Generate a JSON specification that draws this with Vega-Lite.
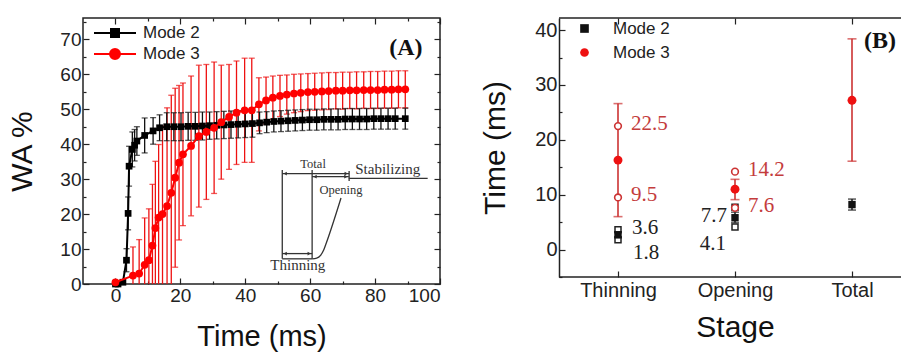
{
  "$schema": "https://vega.github.io/schema/vega-lite/v6.json",
  "background": "white",
  "padding": {"left": 7, "top": 12, "right": 0, "bottom": 0},
  "config": {
    "font": "Liberation Sans",
    "view": {"stroke": "#222", "strokeWidth": 1.5},
    "axis": {"domainColor": "#222", "domainWidth": 1.5, "tickColor": "#222", "tickWidth": 1.2, "labelColor": "#222", "titleColor": "#111", "labelFont": "Liberation Sans", "titleFont": "Liberation Sans", "titleFontWeight": "normal", "grid": false, "labelOverlap": false},
    "legend": {"title": null, "labelFont": "Liberation Sans", "labelColor": "#222", "padding": 0}
  },
  "datasets": {
    "a": [
      {"mode": "Mode 2", "t": 0.0, "wa": 0.0, "lo": 0.0, "hi": 0.0},
      {"mode": "Mode 2", "t": 0.8, "wa": 0.0, "lo": 0.0, "hi": 0.0},
      {"mode": "Mode 2", "t": 2.3, "wa": 0.5, "lo": 0.0, "hi": 1.0},
      {"mode": "Mode 2", "t": 3.4, "wa": 6.8, "lo": 3.5, "hi": 10.1},
      {"mode": "Mode 2", "t": 3.9, "wa": 20.2, "lo": 15.5, "hi": 24.9},
      {"mode": "Mode 2", "t": 4.2, "wa": 33.7, "lo": 28.0, "hi": 39.4},
      {"mode": "Mode 2", "t": 5.2, "wa": 38.5, "lo": 33.5, "hi": 43.5},
      {"mode": "Mode 2", "t": 5.9, "wa": 39.7, "lo": 35.2, "hi": 44.2},
      {"mode": "Mode 2", "t": 6.6, "wa": 40.9, "lo": 36.8, "hi": 45.0},
      {"mode": "Mode 2", "t": 9.0, "wa": 42.5, "lo": 37.5, "hi": 47.5},
      {"mode": "Mode 2", "t": 11.6, "wa": 43.8, "lo": 40.0, "hi": 47.6},
      {"mode": "Mode 2", "t": 13.6, "wa": 44.7, "lo": 41.0, "hi": 48.4},
      {"mode": "Mode 2", "t": 15.8, "wa": 45.0, "lo": 41.0, "hi": 49.0},
      {"mode": "Mode 2", "t": 18.0, "wa": 45.0, "lo": 41.0, "hi": 49.0},
      {"mode": "Mode 2", "t": 20.2, "wa": 45.0, "lo": 41.0, "hi": 49.0},
      {"mode": "Mode 2", "t": 22.4, "wa": 45.1, "lo": 41.1, "hi": 49.1},
      {"mode": "Mode 2", "t": 24.6, "wa": 45.1, "lo": 41.1, "hi": 49.1},
      {"mode": "Mode 2", "t": 26.8, "wa": 45.2, "lo": 41.2, "hi": 49.2},
      {"mode": "Mode 2", "t": 29.0, "wa": 45.3, "lo": 41.4, "hi": 49.2},
      {"mode": "Mode 2", "t": 31.2, "wa": 45.4, "lo": 41.5, "hi": 49.3},
      {"mode": "Mode 2", "t": 33.4, "wa": 45.5, "lo": 41.6, "hi": 49.4},
      {"mode": "Mode 2", "t": 35.6, "wa": 45.6, "lo": 41.7, "hi": 49.5},
      {"mode": "Mode 2", "t": 37.8, "wa": 45.7, "lo": 41.8, "hi": 49.6},
      {"mode": "Mode 2", "t": 40.0, "wa": 45.8, "lo": 41.9, "hi": 49.7},
      {"mode": "Mode 2", "t": 42.2, "wa": 45.9, "lo": 42.0, "hi": 49.8},
      {"mode": "Mode 2", "t": 44.4, "wa": 46.1, "lo": 43.0, "hi": 49.2},
      {"mode": "Mode 2", "t": 46.6, "wa": 46.3, "lo": 43.3, "hi": 49.3},
      {"mode": "Mode 2", "t": 48.8, "wa": 46.5, "lo": 43.5, "hi": 49.5},
      {"mode": "Mode 2", "t": 51.0, "wa": 46.6, "lo": 43.6, "hi": 49.6},
      {"mode": "Mode 2", "t": 53.2, "wa": 46.7, "lo": 43.7, "hi": 49.7},
      {"mode": "Mode 2", "t": 55.4, "wa": 46.8, "lo": 43.8, "hi": 49.8},
      {"mode": "Mode 2", "t": 57.6, "wa": 46.9, "lo": 43.9, "hi": 49.9},
      {"mode": "Mode 2", "t": 59.8, "wa": 47.0, "lo": 44.0, "hi": 50.0},
      {"mode": "Mode 2", "t": 62.0, "wa": 47.0, "lo": 44.0, "hi": 50.0},
      {"mode": "Mode 2", "t": 64.2, "wa": 47.1, "lo": 44.1, "hi": 50.1},
      {"mode": "Mode 2", "t": 66.4, "wa": 47.1, "lo": 44.1, "hi": 50.1},
      {"mode": "Mode 2", "t": 68.6, "wa": 47.1, "lo": 44.1, "hi": 50.1},
      {"mode": "Mode 2", "t": 70.8, "wa": 47.2, "lo": 44.2, "hi": 50.2},
      {"mode": "Mode 2", "t": 73.0, "wa": 47.2, "lo": 44.2, "hi": 50.2},
      {"mode": "Mode 2", "t": 75.2, "wa": 47.2, "lo": 44.2, "hi": 50.2},
      {"mode": "Mode 2", "t": 77.4, "wa": 47.2, "lo": 44.2, "hi": 50.2},
      {"mode": "Mode 2", "t": 79.6, "wa": 47.3, "lo": 44.3, "hi": 50.3},
      {"mode": "Mode 2", "t": 81.8, "wa": 47.3, "lo": 44.3, "hi": 50.3},
      {"mode": "Mode 2", "t": 84.0, "wa": 47.3, "lo": 44.3, "hi": 50.3},
      {"mode": "Mode 2", "t": 86.2, "wa": 47.3, "lo": 44.3, "hi": 50.3},
      {"mode": "Mode 2", "t": 89.3, "wa": 47.3, "lo": 44.3, "hi": 50.3},
      {"mode": "Mode 3", "t": 0.0, "wa": 0.5, "lo": 0.0, "hi": 1.0},
      {"mode": "Mode 3", "t": 5.4, "wa": 2.4, "lo": -5.8, "hi": 10.6},
      {"mode": "Mode 3", "t": 7.3, "wa": 3.0, "lo": -6.7, "hi": 12.7},
      {"mode": "Mode 3", "t": 9.0, "wa": 5.5, "lo": -7.9, "hi": 18.9},
      {"mode": "Mode 3", "t": 10.3, "wa": 6.8, "lo": -7.9, "hi": 21.5},
      {"mode": "Mode 3", "t": 11.4, "wa": 11.0, "lo": -6.5, "hi": 28.5},
      {"mode": "Mode 3", "t": 12.3, "wa": 16.0, "lo": -3.1, "hi": 35.1},
      {"mode": "Mode 3", "t": 13.3, "wa": 19.0, "lo": -1.9, "hi": 39.9},
      {"mode": "Mode 3", "t": 14.5, "wa": 20.0, "lo": -5.2, "hi": 45.2},
      {"mode": "Mode 3", "t": 15.9, "wa": 22.3, "lo": -5.8, "hi": 50.4},
      {"mode": "Mode 3", "t": 17.2, "wa": 26.1, "lo": -1.8, "hi": 54.0},
      {"mode": "Mode 3", "t": 18.4, "wa": 30.4, "lo": 4.8, "hi": 56.0},
      {"mode": "Mode 3", "t": 19.6, "wa": 34.7, "lo": 12.6, "hi": 56.8},
      {"mode": "Mode 3", "t": 20.8, "wa": 37.1, "lo": 16.7, "hi": 57.5},
      {"mode": "Mode 3", "t": 23.3, "wa": 39.5, "lo": 19.5, "hi": 59.5},
      {"mode": "Mode 3", "t": 25.7, "wa": 42.3, "lo": 22.0, "hi": 62.6},
      {"mode": "Mode 3", "t": 28.0, "wa": 43.5, "lo": 24.2, "hi": 62.8},
      {"mode": "Mode 3", "t": 30.4, "wa": 44.7, "lo": 25.9, "hi": 63.5},
      {"mode": "Mode 3", "t": 32.6, "wa": 46.3, "lo": 30.0, "hi": 62.6},
      {"mode": "Mode 3", "t": 35.0, "wa": 47.8, "lo": 32.8, "hi": 62.8},
      {"mode": "Mode 3", "t": 37.3, "wa": 49.0, "lo": 34.2, "hi": 63.8},
      {"mode": "Mode 3", "t": 39.8, "wa": 49.7, "lo": 34.8, "hi": 64.6},
      {"mode": "Mode 3", "t": 42.0, "wa": 49.7, "lo": 34.8, "hi": 64.6},
      {"mode": "Mode 3", "t": 44.2, "wa": 51.4, "lo": 43.8, "hi": 59.0},
      {"mode": "Mode 3", "t": 46.4, "wa": 52.5, "lo": 45.8, "hi": 59.2},
      {"mode": "Mode 3", "t": 48.5, "wa": 53.3, "lo": 47.1, "hi": 59.5},
      {"mode": "Mode 3", "t": 50.7, "wa": 53.8, "lo": 47.9, "hi": 59.7},
      {"mode": "Mode 3", "t": 52.8, "wa": 54.2, "lo": 48.6, "hi": 59.8},
      {"mode": "Mode 3", "t": 55.0, "wa": 54.5, "lo": 49.0, "hi": 60.0},
      {"mode": "Mode 3", "t": 57.1, "wa": 54.7, "lo": 49.3, "hi": 60.1},
      {"mode": "Mode 3", "t": 59.3, "wa": 54.9, "lo": 49.6, "hi": 60.2},
      {"mode": "Mode 3", "t": 61.4, "wa": 55.0, "lo": 49.7, "hi": 60.3},
      {"mode": "Mode 3", "t": 63.6, "wa": 55.1, "lo": 49.8, "hi": 60.4},
      {"mode": "Mode 3", "t": 65.7, "wa": 55.2, "lo": 49.9, "hi": 60.5},
      {"mode": "Mode 3", "t": 67.9, "wa": 55.3, "lo": 50.1, "hi": 60.5},
      {"mode": "Mode 3", "t": 70.0, "wa": 55.3, "lo": 50.0, "hi": 60.6},
      {"mode": "Mode 3", "t": 72.2, "wa": 55.4, "lo": 50.2, "hi": 60.6},
      {"mode": "Mode 3", "t": 74.3, "wa": 55.4, "lo": 50.1, "hi": 60.7},
      {"mode": "Mode 3", "t": 76.5, "wa": 55.5, "lo": 50.3, "hi": 60.7},
      {"mode": "Mode 3", "t": 78.6, "wa": 55.5, "lo": 50.2, "hi": 60.8},
      {"mode": "Mode 3", "t": 80.8, "wa": 55.5, "lo": 50.2, "hi": 60.8},
      {"mode": "Mode 3", "t": 82.9, "wa": 55.6, "lo": 50.3, "hi": 60.9},
      {"mode": "Mode 3", "t": 85.1, "wa": 55.6, "lo": 50.3, "hi": 60.9},
      {"mode": "Mode 3", "t": 87.2, "wa": 55.7, "lo": 50.4, "hi": 61.0},
      {"mode": "Mode 3", "t": 89.3, "wa": 55.7, "lo": 50.4, "hi": 61.0}
    ],
    "insetRules": [
      {"x": 51.4, "y": 7.2, "x2": 51.4, "y2": 32.6},
      {"x": 60.6, "y": 7.2, "x2": 60.6, "y2": 32.6},
      {"x": 51.4, "y": 7.2, "x2": 60.6, "y2": 7.2},
      {"x": 51.4, "y": 8.7, "x2": 60.6, "y2": 8.7},
      {"x": 51.4, "y": 31.6, "x2": 72.0, "y2": 31.6},
      {"x": 60.6, "y": 30.7, "x2": 71.9, "y2": 30.7},
      {"x": 72.0, "y": 29.5, "x2": 72.0, "y2": 32.3},
      {"x": 71.9, "y": 30.2, "x2": 96.2, "y2": 30.2}
    ],
    "insetCurve": [
      {"x": 60.6, "y": 7.2},
      {"x": 62.0, "y": 7.4},
      {"x": 63.2, "y": 8.2},
      {"x": 64.2, "y": 9.8},
      {"x": 65.0, "y": 11.8},
      {"x": 69.5, "y": 24.6}
    ],
    "insetArrows": [
      {"x": 52.3, "y": 8.7, "dir": "left"},
      {"x": 59.7, "y": 8.7, "dir": "right"},
      {"x": 52.3, "y": 31.6, "dir": "left"},
      {"x": 71.1, "y": 31.6, "dir": "right"},
      {"x": 61.5, "y": 30.7, "dir": "left"},
      {"x": 71.0, "y": 30.7, "dir": "right"}
    ],
    "insetText": [
      {"label": "Total", "x": 60.9, "y": 34.3, "big": false},
      {"label": "Opening", "x": 69.5, "y": 26.8, "big": false},
      {"label": "Stabilizing", "x": 83.9, "y": 32.8, "big": true},
      {"label": "Thinning", "x": 56.2, "y": 5.3, "big": true}
    ],
    "b": [
      {"stage": "Thinning", "mode": "Mode 2", "mean": 2.7, "lo": 2.2, "hi": 3.2},
      {"stage": "Opening", "mode": "Mode 2", "mean": 5.8, "lo": 4.9, "hi": 6.8},
      {"stage": "Total", "mode": "Mode 2", "mean": 8.2, "lo": 7.2, "hi": 9.2},
      {"stage": "Thinning", "mode": "Mode 3", "mean": 16.3, "lo": 6.0, "hi": 26.6},
      {"stage": "Opening", "mode": "Mode 3", "mean": 11.0, "lo": 9.1, "hi": 12.8},
      {"stage": "Total", "mode": "Mode 3", "mean": 27.2, "lo": 16.1, "hi": 38.4}
    ],
    "bm": [
      {"stage": "Thinning", "mode": "Mode 2", "value": 3.6, "label": "3.6"},
      {"stage": "Thinning", "mode": "Mode 2", "value": 1.8, "label": "1.8"},
      {"stage": "Opening", "mode": "Mode 2", "value": 7.7, "label": "7.7"},
      {"stage": "Opening", "mode": "Mode 2", "value": 4.1, "label": "4.1"},
      {"stage": "Thinning", "mode": "Mode 3", "value": 22.5, "label": "22.5"},
      {"stage": "Thinning", "mode": "Mode 3", "value": 9.5, "label": "9.5"},
      {"stage": "Opening", "mode": "Mode 3", "value": 14.2, "label": "14.2"},
      {"stage": "Opening", "mode": "Mode 3", "value": 7.6, "label": "7.6"}
    ],
    "frame": [{"edge": "bottom", "v": -5}, {"edge": "top", "v": 42.2}]
  },
  "spacing": 119,
  "bounds": "flush",
  "resolve": {"scale": {"color": "independent", "fill": "independent", "stroke": "independent", "shape": "independent"}},
  "hconcat": [
    {
      "width": 357,
      "height": 266,
      "layer": [
        {
          "data": {"name": "a"},
          "transform": [{"filter": "datum.mode === 'Mode 3'"}],
          "mark": {"type": "rule", "color": "#ee1111", "strokeWidth": 1.3, "clip": true},
          "encoding": {
            "x": {"field": "t", "type": "quantitative", "scale": {"domain": [-10, 100], "nice": false, "zero": false},
              "axis": {"orient": "bottom", "values": [0, 10, 20, 30, 40, 50, 60, 70, 80, 90, 100], "labelExpr": "datum.value % 20 === 0 ? datum.label : ''", "tickSize": {"condition": {"test": "datum.value % 20 === 0", "value": -6}, "value": -3}, "labelFontSize": 19, "labelPadding": 8, "domain": false, "title": "Time (ms)", "titleFontSize": 29, "titlePadding": 14}},
            "y": {"field": "lo", "type": "quantitative", "scale": {"domain": [0, 76.1], "nice": false, "zero": false},
              "axis": {"orient": "left", "values": [0, 5, 10, 15, 20, 25, 30, 35, 40, 45, 50, 55, 60, 65, 70, 75], "labelExpr": "datum.value % 10 === 0 && datum.value <= 70 ? datum.label : ''", "tickSize": {"condition": {"test": "datum.value % 10 === 0", "value": -6}, "value": -3}, "labelFontSize": 19, "labelPadding": 8, "domain": false, "title": "WA %", "titleFontSize": 30, "titlePadding": 22}},
            "y2": {"field": "hi"}
          }
        },
        {
          "data": {"name": "a"},
          "transform": [{"filter": "datum.mode === 'Mode 3'"}],
          "mark": {"type": "tick", "orient": "horizontal", "size": 6, "thickness": 1.3, "color": "#ee1111", "clip": true},
          "encoding": {
            "x": {"field": "t", "type": "quantitative", "axis": null},
            "y": {"field": "hi", "type": "quantitative", "axis": null}
          }
        },
        {
          "data": {"name": "a"},
          "transform": [{"filter": "datum.mode === 'Mode 3'"}],
          "mark": {"type": "tick", "orient": "horizontal", "size": 6, "thickness": 1.3, "color": "#ee1111", "clip": true},
          "encoding": {
            "x": {"field": "t", "type": "quantitative", "axis": null},
            "y": {"field": "lo", "type": "quantitative", "axis": null}
          }
        },
        {
          "data": {"name": "a"},
          "transform": [{"filter": "datum.mode === 'Mode 2'"}],
          "mark": {"type": "rule", "color": "#111", "strokeWidth": 1.3, "clip": true},
          "encoding": {
            "x": {"field": "t", "type": "quantitative", "axis": null},
            "y": {"field": "lo", "type": "quantitative", "axis": null},
            "y2": {"field": "hi"}
          }
        },
        {
          "data": {"name": "a"},
          "transform": [{"filter": "datum.mode === 'Mode 2'"}],
          "mark": {"type": "tick", "orient": "horizontal", "size": 6, "thickness": 1.3, "color": "#111", "clip": true},
          "encoding": {
            "x": {"field": "t", "type": "quantitative", "axis": null},
            "y": {"field": "hi", "type": "quantitative", "axis": null}
          }
        },
        {
          "data": {"name": "a"},
          "transform": [{"filter": "datum.mode === 'Mode 2'"}],
          "mark": {"type": "tick", "orient": "horizontal", "size": 6, "thickness": 1.3, "color": "#111", "clip": true},
          "encoding": {
            "x": {"field": "t", "type": "quantitative", "axis": null},
            "y": {"field": "lo", "type": "quantitative", "axis": null}
          }
        },
        {
          "data": {"name": "a"},
          "transform": [{"filter": "datum.mode === 'Mode 2'"}],
          "mark": {"type": "line", "color": "#000", "strokeWidth": 2, "point": {"shape": "square", "size": 45, "filled": true, "color": "#000", "opacity": 1}},
          "encoding": {
            "x": {"field": "t", "type": "quantitative", "axis": null},
            "y": {"field": "wa", "type": "quantitative", "axis": null}
          }
        },
        {
          "data": {"name": "a"},
          "transform": [{"filter": "datum.mode === 'Mode 3'"}],
          "mark": {"type": "line", "color": "#ff0000", "strokeWidth": 2, "point": {"shape": "circle", "size": 60, "filled": true, "color": "#ff0000", "opacity": 1}},
          "encoding": {
            "x": {"field": "t", "type": "quantitative", "axis": null},
            "y": {"field": "wa", "type": "quantitative", "axis": null}
          }
        },
        {
          "data": {"name": "insetRules"},
          "mark": {"type": "rule", "color": "#333", "strokeWidth": 1.3},
          "encoding": {
            "x": {"field": "x", "type": "quantitative", "axis": null},
            "y": {"field": "y", "type": "quantitative", "axis": null},
            "x2": {"field": "x2"},
            "y2": {"field": "y2"}
          }
        },
        {
          "data": {"name": "insetCurve"},
          "mark": {"type": "line", "color": "#333", "strokeWidth": 1.3, "interpolate": "monotone"},
          "encoding": {
            "x": {"field": "x", "type": "quantitative", "axis": null},
            "y": {"field": "y", "type": "quantitative", "axis": null}
          }
        },
        {
          "data": {"name": "insetArrows"},
          "transform": [{"filter": "datum.dir === 'left'"}],
          "mark": {"type": "point", "shape": "triangle-left", "size": 14, "filled": true, "color": "#333", "opacity": 1},
          "encoding": {
            "x": {"field": "x", "type": "quantitative", "axis": null},
            "y": {"field": "y", "type": "quantitative", "axis": null}
          }
        },
        {
          "data": {"name": "insetArrows"},
          "transform": [{"filter": "datum.dir === 'right'"}],
          "mark": {"type": "point", "shape": "triangle-right", "size": 14, "filled": true, "color": "#333", "opacity": 1},
          "encoding": {
            "x": {"field": "x", "type": "quantitative", "axis": null},
            "y": {"field": "y", "type": "quantitative", "axis": null}
          }
        },
        {
          "data": {"name": "insetText"},
          "transform": [{"filter": "!datum.big"}],
          "mark": {"type": "text", "font": "Liberation Serif", "fontSize": 12.5, "color": "#333"},
          "encoding": {
            "x": {"field": "x", "type": "quantitative", "axis": null},
            "y": {"field": "y", "type": "quantitative", "axis": null},
            "text": {"field": "label"}
          }
        },
        {
          "data": {"name": "insetText"},
          "transform": [{"filter": "datum.big"}],
          "mark": {"type": "text", "font": "Liberation Serif", "fontSize": 15, "color": "#333"},
          "encoding": {
            "x": {"field": "x", "type": "quantitative", "axis": null},
            "y": {"field": "y", "type": "quantitative", "axis": null},
            "text": {"field": "label"}
          }
        },
        {
          "data": {"name": "frame"},
          "transform": [{"filter": "datum.edge === 'top'"}],
          "mark": {"type": "text", "font": "Liberation Serif", "fontWeight": "bold", "fontSize": 24, "color": "#111"},
          "encoding": {
            "x": {"datum": 89.5, "type": "quantitative", "axis": null},
            "y": {"datum": 67.6, "type": "quantitative", "axis": null},
            "text": {"value": "(A)"}
          }
        },
        {
          "data": {"name": "a"},
          "transform": [{"filter": "false"}],
          "mark": {"type": "point", "filled": true, "strokeWidth": 2, "opacity": 1},
          "encoding": {
            "x": {"field": "t", "type": "quantitative",
              "axis": {"orient": "top", "values": [0, 10, 20, 30, 40, 50, 60, 70, 80, 90, 100], "labels": false, "title": null, "domain": false, "tickSize": {"condition": {"test": "datum.value % 20 === 0", "value": -6}, "value": -3}}},
            "y": {"field": "wa", "type": "quantitative",
              "axis": {"orient": "right", "values": [0, 5, 10, 15, 20, 25, 30, 35, 40, 45, 50, 55, 60, 65, 70, 75], "labels": false, "title": null, "domain": false, "tickSize": {"condition": {"test": "datum.value % 10 === 0", "value": -6}, "value": -3}}},
            "fill": {"field": "mode", "type": "nominal", "scale": {"domain": ["Mode 2", "Mode 3"], "range": ["#000000", "#ff0000"]},
              "legend": {"orient": "none", "legendX": 21, "legendY": 4, "symbolSize": 400, "symbolStrokeWidth": 2, "symbolOpacity": 1, "labelFontSize": 17, "labelOffset": 17, "rowPadding": 2}},
            "stroke": {"field": "mode", "type": "nominal", "scale": {"domain": ["Mode 2", "Mode 3"], "range": ["#000000", "#ff0000"]},
              "legend": {"orient": "none", "legendX": 21, "legendY": 4, "symbolSize": 400, "symbolStrokeWidth": 2, "symbolOpacity": 1, "labelFontSize": 17, "labelOffset": 17, "rowPadding": 2}},
            "shape": {"field": "mode", "type": "nominal", "scale": {"domain": ["Mode 2", "Mode 3"], "range": ["M-2.1,0H2.1M-0.4,-0.4H0.4V0.4H-0.4Z", "M-2.1,0H2.1M0.5,0A0.5,0.5 0 1,1 -0.5,0A0.5,0.5 0 1,1 0.5,0Z"]},
              "legend": {"orient": "none", "legendX": 21, "legendY": 4, "symbolSize": 400, "symbolStrokeWidth": 2, "symbolOpacity": 1, "labelFontSize": 17, "labelOffset": 17, "rowPadding": 2}}
          }
        }
      ],
      "resolve": {"axis": {"x": "independent", "y": "independent"}}
    },
    {
      "width": 342,
      "height": 259,
      "view": {"stroke": null},
      "layer": [
        {
          "data": {"name": "b"},
          "transform": [{"filter": "datum.mode === 'Mode 3'"}],
          "mark": {"type": "rule", "color": "#cc3333", "strokeWidth": 1.6},
          "encoding": {
            "x": {"field": "stage", "type": "nominal", "sort": null, "scale": {"type": "point", "domain": ["Thinning", "Opening", "Total"], "range": [59, 293], "padding": 0},
              "axis": {"orient": "bottom", "labelAngle": 0, "domain": false, "tickSize": -6, "labelFontSize": 20, "labelPadding": 9, "title": "Stage", "titleFontSize": 30, "titlePadding": 12}},
            "y": {"field": "lo", "type": "quantitative", "scale": {"domain": [-5, 42.2], "nice": false, "zero": false},
              "axis": {"orient": "left", "values": [-5, 0, 5, 10, 15, 20, 25, 30, 35, 40], "labelExpr": "(datum.value % 10 === 0 && datum.value >= 0) ? datum.label : ''", "tickSize": {"condition": {"test": "datum.value % 10 === 0", "value": -6}, "value": -3}, "labelFontSize": 20, "labelPadding": 8, "domain": true, "title": "Time (ms)", "titleFontSize": 30, "titlePadding": 24}},
            "y2": {"field": "hi"}
          }
        },
        {
          "data": {"name": "frame"},
          "mark": {"type": "rule", "color": "#222", "strokeWidth": 1.5},
          "encoding": {
            "y": {"field": "v", "type": "quantitative", "axis": null}
          }
        },
        {
          "data": {"name": "b"},
          "transform": [{"filter": "datum.mode === 'Mode 3'"}],
          "mark": {"type": "tick", "orient": "horizontal", "size": 9, "thickness": 1.6, "color": "#cc3333"},
          "encoding": {
            "x": {"field": "stage", "type": "nominal", "axis": null},
            "y": {"field": "hi", "type": "quantitative", "axis": null}
          }
        },
        {
          "data": {"name": "b"},
          "transform": [{"filter": "datum.mode === 'Mode 3'"}],
          "mark": {"type": "tick", "orient": "horizontal", "size": 9, "thickness": 1.6, "color": "#cc3333"},
          "encoding": {
            "x": {"field": "stage", "type": "nominal", "axis": null},
            "y": {"field": "lo", "type": "quantitative", "axis": null}
          }
        },
        {
          "data": {"name": "b"},
          "transform": [{"filter": "datum.mode === 'Mode 2'"}],
          "mark": {"type": "rule", "color": "#222", "strokeWidth": 1.6},
          "encoding": {
            "x": {"field": "stage", "type": "nominal", "axis": null},
            "y": {"field": "lo", "type": "quantitative", "axis": null},
            "y2": {"field": "hi"}
          }
        },
        {
          "data": {"name": "b"},
          "transform": [{"filter": "datum.mode === 'Mode 2'"}],
          "mark": {"type": "tick", "orient": "horizontal", "size": 8, "thickness": 1.6, "color": "#222"},
          "encoding": {
            "x": {"field": "stage", "type": "nominal", "axis": null},
            "y": {"field": "hi", "type": "quantitative", "axis": null}
          }
        },
        {
          "data": {"name": "b"},
          "transform": [{"filter": "datum.mode === 'Mode 2'"}],
          "mark": {"type": "tick", "orient": "horizontal", "size": 8, "thickness": 1.6, "color": "#222"},
          "encoding": {
            "x": {"field": "stage", "type": "nominal", "axis": null},
            "y": {"field": "lo", "type": "quantitative", "axis": null}
          }
        },
        {
          "data": {"name": "bm"},
          "transform": [{"filter": "datum.mode === 'Mode 2'"}],
          "mark": {"type": "point", "shape": "square", "size": 36, "filled": false, "color": "#222", "strokeWidth": 1.5, "opacity": 1},
          "encoding": {
            "x": {"field": "stage", "type": "nominal", "axis": null},
            "y": {"field": "value", "type": "quantitative", "axis": null}
          }
        },
        {
          "data": {"name": "b"},
          "transform": [{"filter": "datum.mode === 'Mode 2'"}],
          "mark": {"type": "point", "shape": "square", "size": 55, "filled": true, "color": "#111", "opacity": 1},
          "encoding": {
            "x": {"field": "stage", "type": "nominal", "axis": null},
            "y": {"field": "mean", "type": "quantitative", "axis": null}
          }
        },
        {
          "data": {"name": "bm"},
          "transform": [{"filter": "datum.mode === 'Mode 3'"}],
          "mark": {"type": "point", "shape": "circle", "size": 45, "filled": false, "color": "#cc3333", "strokeWidth": 1.6, "fill": "white", "opacity": 1},
          "encoding": {
            "x": {"field": "stage", "type": "nominal", "axis": null},
            "y": {"field": "value", "type": "quantitative", "axis": null}
          }
        },
        {
          "data": {"name": "b"},
          "transform": [{"filter": "datum.mode === 'Mode 3'"}],
          "mark": {"type": "point", "shape": "circle", "size": 80, "filled": true, "color": "#ee1111", "opacity": 1},
          "encoding": {
            "x": {"field": "stage", "type": "nominal", "axis": null},
            "y": {"field": "mean", "type": "quantitative", "axis": null}
          }
        },
        {
          "data": {"name": "bm"},
          "transform": [{"filter": "datum.mode === 'Mode 3'"}],
          "mark": {"type": "text", "font": "Liberation Serif", "fontSize": 21, "align": "left", "dx": 13, "dy": -2, "color": "#c43c3c"},
          "encoding": {
            "x": {"field": "stage", "type": "nominal", "axis": null},
            "y": {"field": "value", "type": "quantitative", "axis": null},
            "text": {"field": "label"}
          }
        },
        {
          "data": {"name": "bm"},
          "transform": [{"filter": "datum.label === '3.6'"}],
          "mark": {"type": "text", "font": "Liberation Serif", "fontSize": 21, "align": "left", "dx": 14, "dy": -2, "color": "#222"},
          "encoding": {
            "x": {"field": "stage", "type": "nominal", "axis": null},
            "y": {"field": "value", "type": "quantitative", "axis": null},
            "text": {"field": "label"}
          }
        },
        {
          "data": {"name": "bm"},
          "transform": [{"filter": "datum.label === '1.8'"}],
          "mark": {"type": "text", "font": "Liberation Serif", "fontSize": 21, "align": "left", "dx": 15, "dy": 13, "color": "#222"},
          "encoding": {
            "x": {"field": "stage", "type": "nominal", "axis": null},
            "y": {"field": "value", "type": "quantitative", "axis": null},
            "text": {"field": "label"}
          }
        },
        {
          "data": {"name": "bm"},
          "transform": [{"filter": "datum.label === '7.7'"}],
          "mark": {"type": "text", "font": "Liberation Serif", "fontSize": 21, "align": "right", "dx": -8, "dy": 9, "color": "#222"},
          "encoding": {
            "x": {"field": "stage", "type": "nominal", "axis": null},
            "y": {"field": "value", "type": "quantitative", "axis": null},
            "text": {"field": "label"}
          }
        },
        {
          "data": {"name": "bm"},
          "transform": [{"filter": "datum.label === '4.1'"}],
          "mark": {"type": "text", "font": "Liberation Serif", "fontSize": 21, "align": "right", "dx": -9, "dy": 17, "color": "#222"},
          "encoding": {
            "x": {"field": "stage", "type": "nominal", "axis": null},
            "y": {"field": "value", "type": "quantitative", "axis": null},
            "text": {"field": "label"}
          }
        },
        {
          "data": {"name": "frame"},
          "transform": [{"filter": "datum.edge === 'top'"}],
          "mark": {"type": "text", "font": "Liberation Serif", "fontWeight": "bold", "fontSize": 24, "align": "left", "dx": 12, "color": "#111"},
          "encoding": {
            "x": {"datum": "Total", "type": "nominal", "axis": null},
            "y": {"datum": 38.0, "type": "quantitative", "axis": null},
            "text": {"value": "(B)"}
          }
        },
        {
          "data": {"name": "b"},
          "transform": [{"filter": "false"}],
          "mark": {"type": "point", "filled": true, "opacity": 1},
          "encoding": {
            "x": {"field": "stage", "type": "nominal",
              "axis": {"orient": "top", "labels": false, "title": null, "domain": false, "tickSize": -6}},
            "y": {"field": "mean", "type": "quantitative", "axis": null},
            "fill": {"field": "mode", "type": "nominal", "scale": {"domain": ["Mode 2", "Mode 3"], "range": ["#111111", "#ee1111"]},
              "legend": {"orient": "none", "legendX": 17, "legendY": 2, "symbolSize": 75, "symbolStrokeWidth": 0, "symbolOpacity": 1, "labelFontSize": 17, "labelOffset": 20, "rowPadding": 6}},
            "shape": {"field": "mode", "type": "nominal", "scale": {"domain": ["Mode 2", "Mode 3"], "range": ["square", "circle"]},
              "legend": {"orient": "none", "legendX": 17, "legendY": 2, "symbolSize": 75, "symbolStrokeWidth": 0, "symbolOpacity": 1, "labelFontSize": 17, "labelOffset": 20, "rowPadding": 6}}
          }
        }
      ],
      "resolve": {"axis": {"x": "independent", "y": "independent"}}
    }
  ]
}
